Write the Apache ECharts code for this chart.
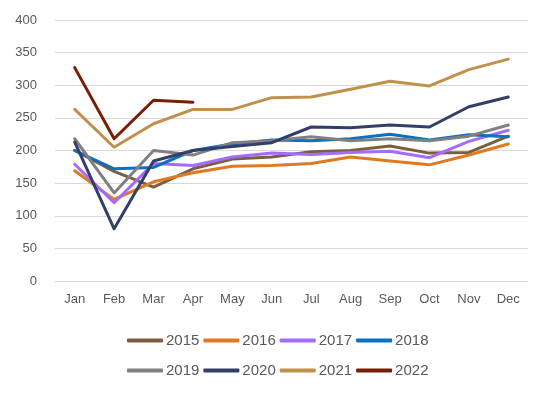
<!DOCTYPE html>
<html>
<head>
<meta charset="utf-8">
<script src="https://cdn.jsdelivr.net/npm/echarts@6/dist/echarts.min.js"></script>
<style>html,body{margin:0;padding:0;background:#fff;}#c{width:550px;height:393px;}</style>
</head>
<body>
<div id="c"></div>
<script>
const months = ['Jan','Feb','Mar','Apr','May','Jun','Jul','Aug','Sep','Oct','Nov','Dec'];
const yTicks = [0,50,100,150,200,250,300,350,400];
const s2015 = [200,168,144,172,187,190,198,200,207,196,197,222];
const s2016 = [169,125,152,166,176,177,180,190,184,178,193,210];
const s2017 = [179,120,180,177,190,196,194,197,199,189,214,231];
const s2018 = [200,172,174,200,210,216,215,218,225,216,224,221];
const s2019 = [218,135,200,193,212,215,221,215,218,215,222,239];
const s2020 = [213,80,184,200,206,212,236,235,239,236,267,282];
const s2021 = [263,205,241,263,263,281,282,294,306,299,324,340];
const s2022 = [327,218,277,274];
const seriesNames = ['2015','2016','2017','2018','2019','2020','2021','2022'];
const seriesData = [s2015,s2016,s2017,s2018,s2019,s2020,s2021,s2022];
const colors = ['#7c5e3c','#e07a22','#a36cfa','#0a70c0','#808080','#333f68','#c1914b','#7a1d06'];

const chart = echarts.init(document.getElementById('c'), null, {renderer:'canvas'});
const font = 'Liberation Sans, Arial, sans-serif';
const legendBase = {
  orient:'horizontal', itemWidth:36, itemHeight:4, itemGap:4, icon:'roundRect',
  textStyle:{color:'#595959', fontSize:15, fontFamily:font, padding:[0,0,0,-2]},
  selectedMode:false
};
chart.setOption({
  animation:false,
  color: colors,
  grid:{left:55, right:22, top:20, bottom:112, containLabel:false},
  legend:[
    Object.assign({}, legendBase, {left:122, top:328, data:seriesNames.slice(0,4)}),
    Object.assign({}, legendBase, {left:122, top:358, data:seriesNames.slice(4)})
  ],
  xAxis:{
    type:'category', data:months, boundaryGap:true,
    axisLine:{show:true, lineStyle:{color:'#d9d9d9', width:1}},
    axisTick:{show:false},
    axisLabel:{color:'#595959', fontSize:13, fontFamily:font, margin:12}
  },
  yAxis:{
    type:'value', min:yTicks[0], max:yTicks[yTicks.length-1], interval:50,
    axisLine:{show:false}, axisTick:{show:false},
    splitLine:{lineStyle:{color:'#d9d9d9', width:1}},
    axisLabel:{color:'#595959', fontSize:13, fontFamily:font, margin:18}
  },
  series: seriesNames.map((n,i)=>({
    name:n, type:'line', data:seriesData[i], symbol:'none',
    lineStyle:{width:3, color:colors[i], cap:'round', join:'round'},
    itemStyle:{color:colors[i]}
  }))
});
</script>
</body>
</html>
